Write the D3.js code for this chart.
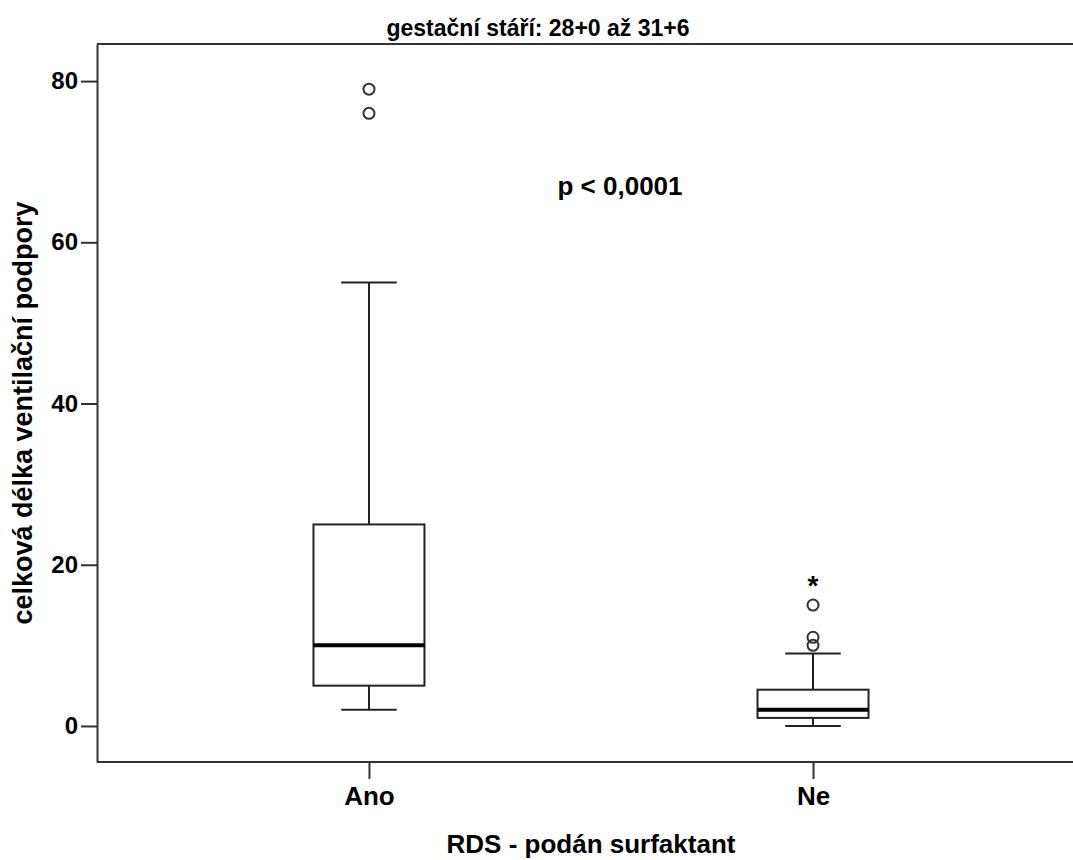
<!DOCTYPE html>
<html>
<head>
<meta charset="utf-8">
<script src="https://cdn.jsdelivr.net/npm/d3@7"></script>
<style>
  body { margin: 0; background: #fff; }
  text { font-family: "Liberation Sans", Arial, sans-serif; font-weight: bold; fill: #000; }
</style>
</head>
<body>
<div id="chart"></div>
<script>
// box plot data
let groups = ["Ano", "Ne"];
let q1 = [5, 1];
let median = [10, 2];
let q3 = [25, 4.5];
let whiskerLow = [2, 0];
let whiskerHigh = [55, 9];
let outliers = [[76, 79], [10, 11, 15]];
let extremes = [[], [18]];
let yTicks = [0, 20, 40, 60, 80];

let width = 1073, height = 860;
let plotLeft = 97, plotTop = 44, plotBottom = 762, plotRight = 1085;

let svg = d3.select("#chart")
    .append("svg")
    .attr("width", width)
    .attr("height", height);

let xScale = d3.scalePoint().domain(groups).range([plotLeft, plotRight]).padding(0.6125);
let yScale = d3.scaleLinear().domain([-4.47, 84.6]).range([plotBottom, plotTop]);
let boxW = 111;

// frame: top border and axes
svg.append("line")
    .attr("x1", plotLeft).attr("x2", width)
    .attr("y1", plotTop).attr("y2", plotTop)
    .attr("stroke", "#333").attr("stroke-width", 2);

let yAxis = d3.axisLeft(yScale).tickValues(yTicks).tickSize(16).tickSizeOuter(0).tickPadding(3);
let gy = svg.append("g")
    .attr("transform", "translate(" + plotLeft + ",0)")
    .call(yAxis);
gy.select(".domain").attr("stroke", "#333").attr("stroke-width", 2);
gy.selectAll(".tick line").attr("stroke", "#333").attr("stroke-width", 2);
gy.selectAll(".tick text").style("font-size", "24px");

let xAxis = d3.axisBottom(xScale).tickSize(17).tickSizeOuter(0).tickPadding(8);
let gx = svg.append("g")
    .attr("transform", "translate(0," + plotBottom + ")")
    .call(xAxis);
gx.select(".domain").attr("d", "M" + plotLeft + ",0H" + width).attr("stroke", "#333").attr("stroke-width", 2);
gx.selectAll(".tick line").attr("stroke", "#333").attr("stroke-width", 2);
gx.selectAll(".tick text").style("font-size", "26px");

// boxes
let boxes = svg.selectAll(".box")
    .data(groups)
    .enter()
    .append("g")
    .attr("class", "box");

// whiskers
boxes.append("line")
    .attr("x1", d => xScale(d)).attr("x2", d => xScale(d))
    .attr("y1", (d, i) => yScale(whiskerHigh[i])).attr("y2", (d, i) => yScale(q3[i]))
    .attr("stroke", "#222").attr("stroke-width", 2);
boxes.append("line")
    .attr("x1", d => xScale(d)).attr("x2", d => xScale(d))
    .attr("y1", (d, i) => yScale(q1[i])).attr("y2", (d, i) => yScale(whiskerLow[i]))
    .attr("stroke", "#222").attr("stroke-width", 2);
boxes.append("line")
    .attr("x1", d => xScale(d) - boxW / 4).attr("x2", d => xScale(d) + boxW / 4)
    .attr("y1", (d, i) => yScale(whiskerHigh[i])).attr("y2", (d, i) => yScale(whiskerHigh[i]))
    .attr("stroke", "#222").attr("stroke-width", 2);
boxes.append("line")
    .attr("x1", d => xScale(d) - boxW / 4).attr("x2", d => xScale(d) + boxW / 4)
    .attr("y1", (d, i) => yScale(whiskerLow[i])).attr("y2", (d, i) => yScale(whiskerLow[i]))
    .attr("stroke", "#222").attr("stroke-width", 2);

boxes.append("rect")
    .attr("x", d => xScale(d) - boxW / 2)
    .attr("width", boxW)
    .attr("y", (d, i) => yScale(q3[i]))
    .attr("height", (d, i) => yScale(q1[i]) - yScale(q3[i]))
    .attr("fill", "#fff")
    .attr("stroke", "#222").attr("stroke-width", 2);

boxes.append("line")
    .attr("x1", d => xScale(d) - boxW / 2).attr("x2", d => xScale(d) + boxW / 2)
    .attr("y1", (d, i) => yScale(median[i])).attr("y2", (d, i) => yScale(median[i]))
    .attr("stroke", "#000").attr("stroke-width", 4);

// outliers
groups.forEach((g, i) => {
    svg.selectAll(".out" + i)
        .data(outliers[i])
        .enter()
        .append("circle")
        .attr("cx", xScale(g))
        .attr("cy", d => yScale(d))
        .attr("r", 5.5)
        .attr("fill", "none")
        .attr("stroke", "#333")
        .attr("stroke-width", 2);
    svg.selectAll(".ext" + i)
        .data(extremes[i])
        .enter()
        .append("text")
        .attr("x", xScale(g))
        .attr("y", d => yScale(d) + 14)
        .attr("text-anchor", "middle")
        .style("font-size", "28px")
        .text("*");
});

// titles
svg.append("text")
    .attr("x", 538).attr("y", 36)
    .attr("text-anchor", "middle")
    .style("font-size", "23px")
    .text("gestační stáří: 28+0 až 31+6");

svg.append("text")
    .attr("x", 620).attr("y", 195)
    .attr("text-anchor", "middle")
    .style("font-size", "26px")
    .text("p < 0,0001");

svg.append("text")
    .attr("x", 591).attr("y", 853)
    .attr("text-anchor", "middle")
    .style("font-size", "26px")
    .text("RDS - podán surfaktant");

svg.append("text")
    .attr("transform", "translate(32," + 413 + ") rotate(-90)")
    .attr("text-anchor", "middle")
    .style("font-size", "27px")
    .text("celková délka ventilační podpory");
</script>
</body>
</html>
